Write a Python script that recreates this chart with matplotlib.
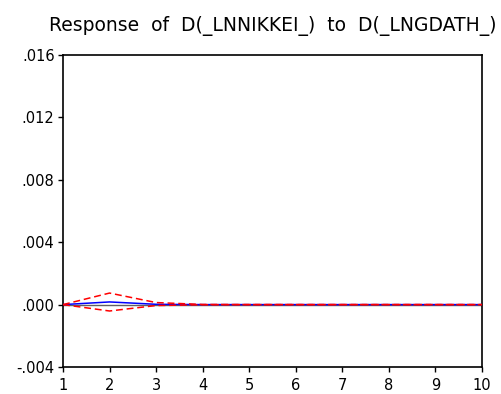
import matplotlib.pyplot as plt
import numpy as np

# Réponse impulsionnelle
periodes = [1, 2, 3, 4, 5, 6, 7, 8, 9, 10]
reponse = [0.0, 0.00017, 0.00002, 0.0, 0.0, 0.0, 0.0, 0.0, 0.0, 0.0]
borne_sup = [0.0, 0.00074, 0.00013, 0.00001, 0.0, 0.0, 0.0, 0.0, 0.0, 0.0]
borne_inf = [0.0, -0.00041, -0.00006, -0.00001, 0.0, 0.0, 0.0, 0.0, 0.0, 0.0]
yticks = [-0.004, 0.0, 0.004, 0.008, 0.012, 0.016]
ylabels = ['-.004', '.000', '.004', '.008', '.012', '.016']

plt.rcParams['font.family'] = ['DejaVu Sans']

fig = plt.figure(figsize=(5.01, 3.94), dpi=100)
ax = fig.add_axes([63 / 501, 1 - 367 / 394, (482 - 63) / 501, (367 - 55) / 394])

ax.axhline(0, color='#606060', lw=1.0, zorder=1)
ax.plot(periodes, reponse, color='blue', lw=1.1, zorder=3)
ax.plot(periodes, borne_sup, color='red', lw=1.1, ls=(0, (4.5, 2.5)), zorder=4)
ax.plot(periodes, borne_inf, color='red', lw=1.1, ls=(0, (4.5, 2.5)), zorder=4)

ax.set_xlim(1, 10)
ax.set_ylim(-0.004, 0.016)
ax.set_xticks(periodes)
ax.set_yticks(yticks)
ax.set_yticklabels(ylabels)
ax.tick_params(direction='out', length=3.6, width=1, labelsize=10.5, pad=2.5)
ax.tick_params(axis='x', pad=4.5)
for s in ax.spines.values():
    s.set_linewidth(1.2)

ax.set_title('Response  of  D(_LNNIKKEI_)  to  D(_LNGDATH_)', fontsize=13.5, pad=17.5)

fig.savefig('out.png', dpi=100)
